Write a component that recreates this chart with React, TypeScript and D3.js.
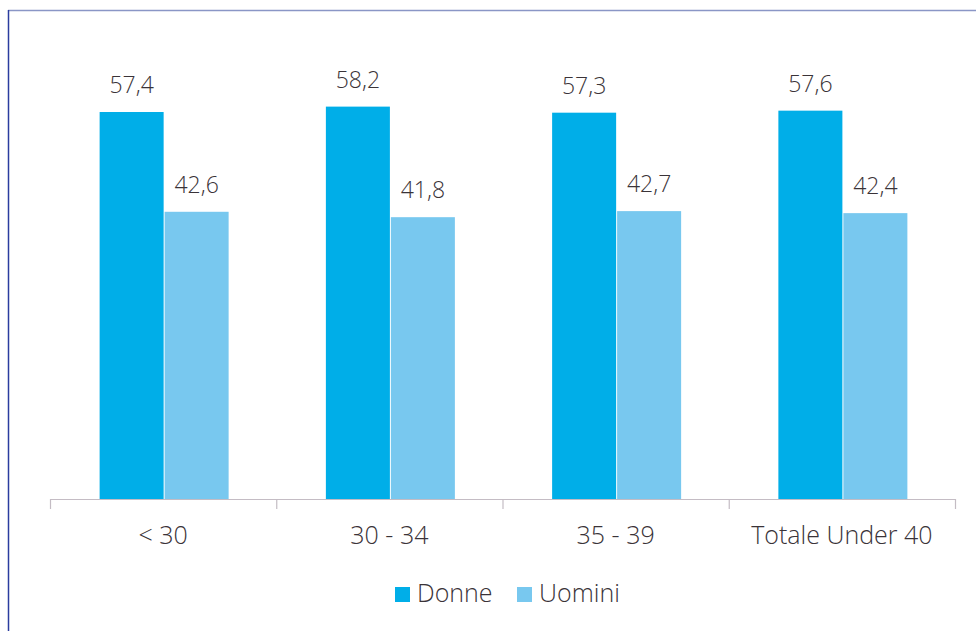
import * as d3 from 'd3'
import { useMemo } from 'react'

// categories and series
const categories = ['< 30', '30 - 34', '35 - 39', 'Totale Under 40']
const seriesNames = ['Donne', 'Uomini']
const donne = [57.4, 58.2, 57.3, 57.6]
const uomini = [42.6, 41.8, 42.7, 42.4]
const seriesColors = ['#00aee8', '#78c8ef']

const W = 976
const H = 631
const axisY = 499
const FONT = '"Open Sans", "Noto Sans", sans-serif'

const fmt = (v: number) => v.toFixed(1).replace('.', ',')

const App = () => {
  const xScale = useMemo(
    () => d3.scaleBand<string>().domain(categories).range([50, 955]).padding(0),
    []
  )

  const bw = xScale.bandwidth()
  const groupW = 129

  const xInner = useMemo(
    () =>
      d3
        .scaleBand<string>()
        .domain(seriesNames)
        .range([(bw - groupW) / 2 + 1, (bw + groupW) / 2 + 1])
        .paddingInner(0.015),
    [bw]
  )

  const yScale = useMemo(
    () => d3.scaleLinear().domain([0, 70]).range([axisY, axisY - 70 * 6.742]),
    []
  )

  const values = [donne, uomini]
  const ticks = [...categories.map((c) => xScale(c) as number), 955]

  return (
    <svg
      width={W}
      height={H}
      style={{ position: 'absolute', left: 0, top: 0, background: '#fff' }}
    >
      {/* frame */}
      <line x1={8} x2={W} y1={10.5} y2={10.5} stroke="#8a96c6" strokeWidth={1.5} />
      <line x1={8.5} x2={8.5} y1={10} y2={H} stroke="#2b3c9e" strokeWidth={1.5} />

      {categories.map((c, i) => (
        <g key={c} transform={`translate(${xScale(c)},0)`}>
          {seriesNames.map((s, j) => {
            const v = values[j][i]
            const x = xInner(s) as number
            return (
              <g key={s}>
                <rect
                  x={x}
                  y={yScale(v)}
                  width={xInner.bandwidth()}
                  height={axisY - yScale(v)}
                  fill={seriesColors[j]}
                />
                <text
                  x={x + xInner.bandwidth() / 2}
                  y={yScale(v) - 19}
                  textAnchor="middle"
                  fontSize="23px"
                  fontWeight={300}
                  fontFamily={FONT}
                  fill="#3a3338"
                >
                  {fmt(v)}
                </text>
              </g>
            )
          })}
          <text
            x={bw / 2}
            y={544}
            textAnchor="middle"
            fontSize="25px"
            fontWeight={300}
            fontFamily={FONT}
            fill="#3a3338"
          >
            {c}
          </text>
        </g>
      ))}

      {/* x axis */}
      <line x1={50} x2={955} y1={axisY + 0.5} y2={axisY + 0.5} stroke="#c4bcc4" strokeWidth={1.2} />
      {ticks.map((t, i) => (
        <line
          key={i}
          x1={t + 0.5}
          x2={t + 0.5}
          y1={axisY}
          y2={axisY + 10}
          stroke="#c4bcc4"
          strokeWidth={1.2}
        />
      ))}

      {/* legend */}
      {seriesNames.map((s, j) => {
        const lx = [395, 517][j]
        return (
          <g key={s} transform={`translate(${lx},587)`}>
            <rect width={15} height={15} fill={seriesColors[j]} />
            <text x={22} y={15} fontSize="25px" fontWeight={300} fontFamily={FONT} fill="#3a3338">
              {s}
            </text>
          </g>
        )
      })}
    </svg>
  )
}

export default App
